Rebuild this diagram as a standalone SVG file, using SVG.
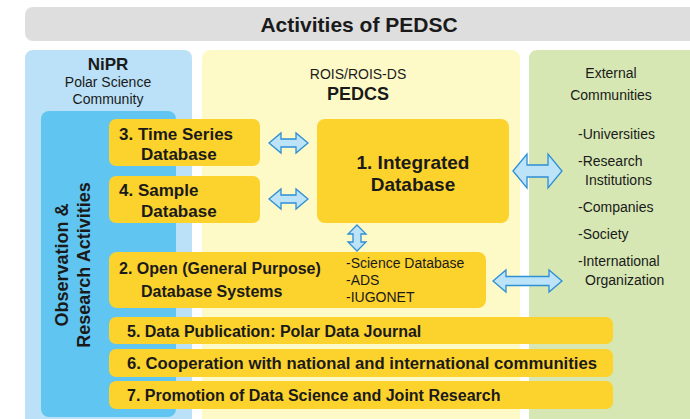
<svg xmlns="http://www.w3.org/2000/svg" width="690" height="419" viewBox="0 0 690 419">
<style>
text{font-family:"Liberation Sans",Arial,sans-serif;fill:#1a1a1a}
.b{font-weight:bold}
.ybox{fill:#fcd22d}
.arr{fill:#bde3f8;stroke:#2d8fd5;stroke-width:1.3;stroke-linejoin:miter}
.s14{font-size:14px}
.s16{font-size:16px;font-weight:bold}
.s17{font-size:17px;font-weight:bold}
.s18{font-size:18px;font-weight:bold}
</style>
<rect width="690" height="419" fill="#ffffff"/>
<g id="title">
<rect x="25" y="7" width="680" height="34" rx="8" fill="#dedede"/>
<text x="359" y="32" text-anchor="middle" class="b" font-size="21">Activities of PEDSC</text>
</g>
<g id="nipr">
<rect x="25" y="50" width="167" height="380" rx="8" fill="#bae1f7"/>
<text x="108" y="70" text-anchor="middle" class="b" font-size="17">NiPR</text>
<text x="108" y="87" text-anchor="middle" class="s14">Polar Science</text>
<text x="108" y="104" text-anchor="middle" class="s14">Community</text>
</g>
<g id="pedcs">
<rect x="202" y="50" width="318" height="380" rx="8" fill="#fefac8"/>
<text x="358" y="79" text-anchor="middle" class="s14">ROIS/ROIS-DS</text>
<text x="358" y="100" text-anchor="middle" class="b" font-size="18">PEDCS</text>
</g>
<g id="external">
<rect x="529" y="50" width="180" height="380" rx="8" fill="#d6e7b3"/>
<text x="611" y="78" text-anchor="middle" class="s14">External</text>
<text x="611" y="100" text-anchor="middle" class="s14">Communities</text>
<text x="578" y="139" class="s14">-Universities</text>
<text x="578" y="166" class="s14">-Research</text>
<text x="585" y="185" class="s14">Institutions</text>
<text x="578" y="212" class="s14">-Companies</text>
<text x="578" y="239" class="s14">-Society</text>
<text x="578" y="266" class="s14">-International</text>
<text x="585" y="285" class="s14">Organization</text>
</g>
<g id="observation">
<rect x="41" y="111" width="135" height="306" rx="8" fill="#60c5f1"/>
<text transform="translate(68,265) rotate(-90)" text-anchor="middle" class="s18">Observation &amp;</text>
<text transform="translate(90,265) rotate(-90)" text-anchor="middle" class="s18">Research Activities</text>
</g>
<g id="box3">
<rect x="109" y="119" width="151" height="47" rx="7" class="ybox"/>
<text x="119" y="140" class="s17">3. Time Series</text>
<text x="141" y="160" class="s17">Database</text>
</g>
<g id="box4">
<rect x="109" y="176" width="151" height="47" rx="7" class="ybox"/>
<text x="119" y="196" class="s17">4. Sample</text>
<text x="141" y="217" class="s17">Database</text>
</g>
<g id="box1">
<rect x="317" y="119" width="192" height="104" rx="8" class="ybox"/>
<text x="413" y="169" text-anchor="middle" class="b" font-size="19">1. Integrated</text>
<text x="413" y="191" text-anchor="middle" class="b" font-size="19">Database</text>
</g>
<g id="box2">
<rect x="109" y="252" width="377" height="56" rx="8" class="ybox"/>
<text x="119" y="274" class="s16">2. Open (General Purpose)</text>
<text x="141" y="297" class="s16">Database Systems</text>
<text x="346" y="268" class="s14">-Science Database</text>
<text x="346" y="285" class="s14">-ADS</text>
<text x="346" y="302" class="s14">-IUGONET</text>
</g>
<g id="box5">
<rect x="109" y="317" width="504" height="27" rx="7" class="ybox"/>
<text x="127" y="337" class="s16">5. Data Publication: Polar Data Journal</text>
</g>
<g id="box6">
<rect x="109" y="349" width="504" height="28" rx="7" class="ybox"/>
<text x="127" y="369" class="s16" textLength="470" lengthAdjust="spacingAndGlyphs">6. Cooperation with national and international communities</text>
</g>
<g id="box7">
<rect x="109" y="381" width="504" height="28" rx="7" class="ybox"/>
<text x="127" y="401" class="s16">7. Promotion of Data Science and Joint Research</text>
</g>
<g id="connectors">
<path class="arr" d="M269 143 L281 133 L281 139 L296 139 L296 133 L308 143 L296 153 L296 147 L281 147 L281 153 Z"/>
<path class="arr" d="M269 199 L281 189 L281 195 L296 195 L296 189 L308 199 L296 209 L296 203 L281 203 L281 209 Z"/>
<path class="arr" d="M513 171 L527 154 L527 165 L548 165 L548 154 L562 171 L548 188 L548 177 L527 177 L527 188 Z"/>
<path class="arr" d="M493 281 L506 270 L506 276.5 L549 276.5 L549 270 L562 281 L549 292 L549 285.5 L506 285.5 L506 292 Z"/>
<path class="arr" d="M357 225 L366 234 L361 234 L361 242 L366 242 L357 251 L348 242 L353 242 L353 234 L348 234 Z"/>
</g>
</svg>
